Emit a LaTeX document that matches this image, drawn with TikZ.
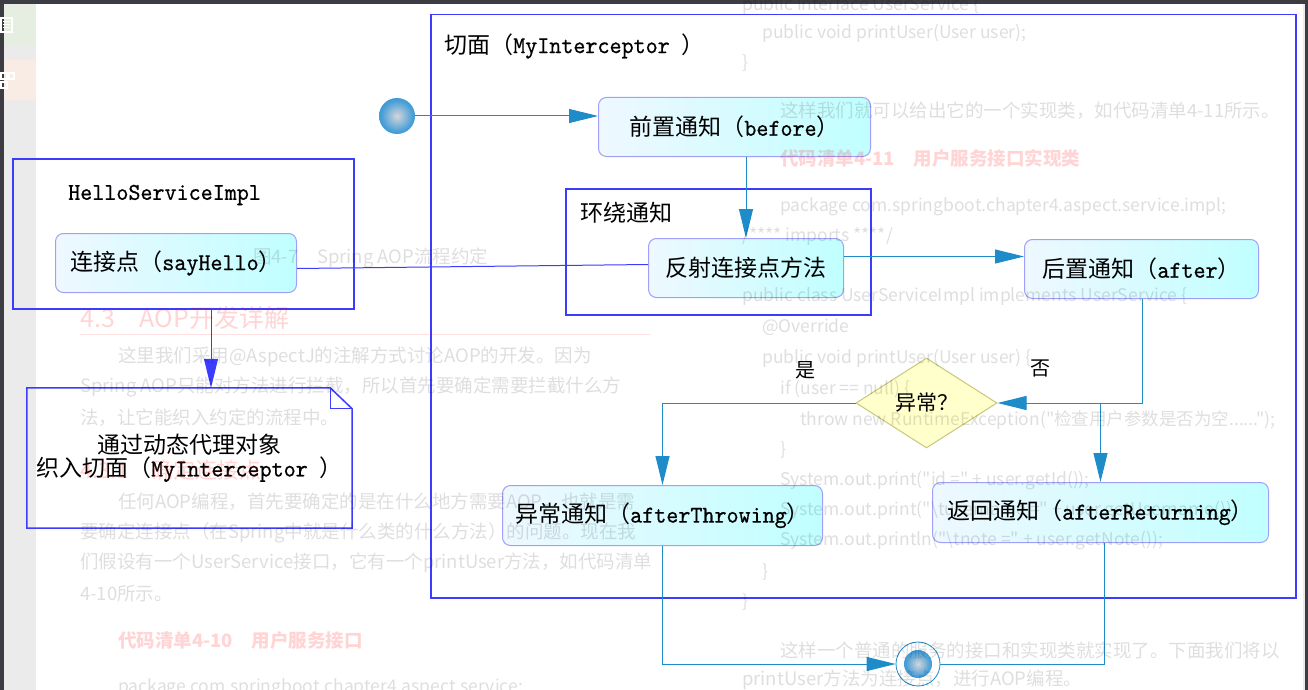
\documentclass[tikz,border=0pt]{standalone}
\usepackage{fontspec}
\newfontfamily\cjk{Noto Sans CJK SC}
\newfontfamily\lat{lmmono10-regular.otf}[Scale=1.05, FakeStretch=0.95, FakeBold=0.6]
\usetikzlibrary{arrows.meta,shapes.geometric,calc}
\definecolor{frameblue}{RGB}{60,60,255}
\definecolor{conn}{RGB}{30,140,200}
\definecolor{nodeborder}{RGB}{160,160,250}
\definecolor{nodeL}{RGB}{238,248,255}
\definecolor{nodeR}{RGB}{192,255,255}
\definecolor{diafill}{RGB}{255,255,204}
\definecolor{diaborder}{RGB}{200,200,120}
\definecolor{ballin}{RGB}{212,214,218}
\definecolor{ballmid}{RGB}{70,158,215}
\definecolor{ballout}{RGB}{25,128,200}
\definecolor{darkbar}{RGB}{60,60,66}
\definecolor{sidegray}{RGB}{235,235,235}
\definecolor{sidegreen}{RGB}{230,238,226}
\definecolor{sideorange}{RGB}{248,236,228}
\pgfdeclareradialshading{myball}{\pgfpoint{0bp}{0bp}}{color(0bp)=(ballin); color(22bp)=(ballmid); color(50bp)=(ballout); color(100bp)=(ballout)}
\newcommand\zh[1]{{\cjk #1}}
\begin{document}
\begin{tikzpicture}[x=1pt,y=-1pt,
  lbl/.style={font=\lat\fontsize{23}{23}\selectfont, inner sep=0pt, text=black},
  act/.style={lbl, draw=nodeborder, line width=1pt, rounded corners=8pt,
    left color=nodeL, right color=nodeR, anchor=north west},
  frame/.style={draw=frameblue, line width=1.5pt, inner sep=0pt, anchor=north west},
  flow/.style={draw=conn, line width=1pt, -{Triangle[length=29pt,width=14pt]}},
  plain/.style={draw=conn, line width=1pt},
  blueflow/.style={draw=frameblue, line width=1pt, -{Triangle[length=29pt,width=14pt]}},
  bluelink/.style={draw=frameblue, line width=1pt},
  yesno/.style={font=\cjk\fontsize{20}{20}\selectfont, inner sep=0pt},
  bg/.style={font=\cjk\fontsize{18.5}{18.5}\selectfont, text=black, text opacity=0.13, anchor=west, inner sep=0pt},
  code/.style={bg, font=\cjk\fontsize{17.5}{17.5}\selectfont},
  bgh/.style={font=\cjk\bfseries\fontsize{18.5}{18.5}\selectfont, text=red, text opacity=0.17, anchor=west, inner sep=0pt},
]
\useasboundingbox (0,0) rectangle (1308,690);
% screenshot surroundings
\fill[white] (0,0) rectangle (1308,690);
\fill[sidegray] (4,4) rectangle (36,690);
\fill[sidegreen] (4,5) rectangle (36,45);
\fill[sideorange] (4,60) rectangle (36,100);
\fill[darkbar] (0,0) rectangle (1308,4);
\fill[darkbar] (0,0) rectangle (4,690);
\fill[sidegray] (1303,4) rectangle (1305,690);
\fill[darkbar] (1305,0) rectangle (1308,690);
\draw[white, line width=2pt] (1,18) rectangle (12,32);
\draw[white, line width=1pt] (3,22) -- (10,22) (3,25) -- (10,25) (3,28) -- (10,28);
\draw[white, line width=1.5pt] (1,73) rectangle (7,79) (9,73) rectangle (14,79) (1,82) rectangle (7,88);

% frames
\node[frame, minimum width=865pt, minimum height=583pt] (aspect) at (430,14) {};
\node[lbl, anchor=west] (aspectlbl) at (444,46) {\zh{切面（}MyInterceptor \zh{）}};
\node[frame, minimum width=305pt, minimum height=126pt] (around) at (565,188) {};
\node[lbl, anchor=west] (aroundlbl) at (580,213) {\zh{环绕通知}};
\node[frame, minimum width=341pt, minimum height=150pt] (hello) at (12,158) {};
\node[lbl, anchor=west] (hellolbl) at (68,195) {HelloServiceImpl};

% activity nodes
\node[act, minimum width=272pt, minimum height=59pt] (before) at (598,97) {\zh{前置通知（}before\zh{）}};
\node[act, minimum width=195pt, minimum height=59pt] (reflect) at (648,238) {\zh{反射连接点方法}};
\node[act, minimum width=234pt, minimum height=59pt] (after) at (1024,239) {\zh{后置通知（}after\zh{）}};
\node[act, minimum width=320pt, minimum height=60pt] (throwing) at (502,485) {\zh{异常通知（}afterThrowing\zh{）}};
\node[act, minimum width=336pt, minimum height=60pt] (returning) at (932,482) {\zh{返回通知（}afterReturning\zh{）}};
\node[act, minimum width=241pt, minimum height=59pt] (sayhello) at (55,233) {\zh{连接点（}sayHello\zh{）}};

% decision
\node[diamond, draw=diaborder, fill=diafill, line width=1pt, inner sep=0pt,
  minimum width=141pt, minimum height=90pt, font=\cjk\fontsize{21}{21}\selectfont] (dec) at (926.5,403) {异常？};
\node[yesno] (yes) at (805,370) {是};
\node[yesno] (no) at (1040,368) {否};

% initial and final
\node[circle, minimum size=36pt, inner sep=0pt, shade, shading=myball] (init) at (397,116) {};
\node[circle, draw=conn, line width=0.8pt, fill=white, minimum size=44pt, inner sep=0pt] (final) at (918,664) {};
\shade[shading=myball] (final.center) circle (14);

% note
\node[lbl, align=center, minimum width=325pt, minimum height=140pt] (note) at (189.5,458) {\zh{通过动态代理对象}\\\zh{织入切面（}MyInterceptor \zh{）}};
\draw[frameblue, line width=1.5pt] (note.north west) -- ($(note.north east)+(-22,0)$) -- ($(note.north east)+(0,21)$) -- (note.south east) -- (note.south west) -- cycle;
\draw[frameblue, line width=1pt] ($(note.north east)+(-22,0)$) -- ($(note.north east)+(-22,21)$) -- ($(note.north east)+(0,21)$);

% connectors
\draw[flow] (init.east) -- (init.east -| before.west);
\draw[flow] (reflect.north |- before.south) -- (reflect.north);
\coordinate (ra) at ($(reflect.east)+(0,-11.5)$);
\draw[flow] (ra) -- (ra -| after.west);
\coordinate (aft) at ($(after.south)+(1,0)$);
\draw[flow] (aft) |- (dec.east);
\draw[flow] (returning.north |- dec.east) -- (returning.north);
\draw[flow] (dec.west) -| (throwing.north);
\draw[flow] (throwing.south) |- (final.west);
\coordinate (rs) at ($(returning.south)+(4,0)$);
\draw[plain] (rs) |- (final.east);
\coordinate (hs) at ($(hello.south west)+(199,0)$);
\draw[blueflow] (hs) -- (hs |- note.north);
\draw[bluelink] ($(sayhello.east)+(0,5.5)$) -- ($(reflect.west)+(0,-3.5)$);

% faint page text of the screenshot, showing through the diagram
\node[code] (t1) at (742,5) {public interface UserService \{};
\node[code] (t2) at (762,33) {public void printUser(User user);};
\node[code] (t3) at (742,63) {\}};
\node[bg] (t4) at (780,111) {这样我们就可以给出它的一个实现类，如代码清单4-11所示。};
\node[bgh] (t5) at (780,158) {代码清单4-11\quad 用户服务接口实现类};
\node[code] (t6) at (780,207) {package com.springboot.chapter4.aspect.service.impl;};
\node[code] (t7) at (742,237) {/**** imports ****/};
\node[code] (t8) at (742,297) {public class UserServiceImpl implements UserService \{};
\node[code] (t9) at (762,327) {@Override};
\node[code] (t10) at (762,358) {public void printUser(User user) \{};
\node[code] (t11) at (780,389) {if (user == null) \{};
\node[code] (t12) at (800,420) {throw new RuntimeException("检查用户参数是否为空......");};
\node[code] (t13) at (780,450) {\}};
\node[code] (t14) at (780,481) {System.out.print("id =" + user.getId());};
\node[code] (t15) at (780,511) {System.out.print("\textbackslash tusername =" + user.getUsername());};
\node[code] (t16) at (780,541) {System.out.println("\textbackslash tnote =" + user.getNote());};
\node[code] (t17) at (762,572) {\}};
\node[code] (t18) at (742,602) {\}};
\node[bg] (t19) at (780,650) {这样一个普通的服务的接口和实现类就实现了。下面我们将以};
\node[bg] (t20) at (742,680) {printUser方法为连接点，进行AOP编程。};
\node[bg] (cap) at (253,258) {图4-7\quad Spring AOP流程约定};
\node[bgh, font=\cjk\fontsize{25}{25}\selectfont] (h43) at (80,318) {4.3\quad AOP开发详解};
\draw[red, opacity=0.12, line width=1pt] (80,334) -- (650,334);
\node[bg] (p1) at (118,357) {这里我们采用@AspectJ的注解方式讨论AOP的开发。因为};
\node[bg] (p2) at (80,387) {Spring AOP只能对方法进行拦截，所以首先要确定需要拦截什么方};
\node[bg] (p3) at (80,418) {法，让它能织入约定的流程中。};
\node[bgh, font=\cjk\fontsize{22}{22}\selectfont] (h431) at (80,470) {4.3.1\quad 确定连接点};
\node[bg] (p4) at (118,502) {任何AOP编程，首先要确定的是在什么地方需要AOP，也就是需};
\node[bg] (p5) at (80,533) {要确定连接点（在Spring中就是什么类的什么方法）的问题。现在我};
\node[bg] (p6) at (80,563) {们假设有一个UserService接口，它有一个printUser方法，如代码清单};
\node[bg] (p7) at (80,594) {4-10所示。};
\node[bgh] (h410) at (118,640) {代码清单4-10\quad 用户服务接口};
\node[code] (p8) at (118,688) {package com.springboot.chapter4.aspect.service;};
\end{tikzpicture}
\end{document}
